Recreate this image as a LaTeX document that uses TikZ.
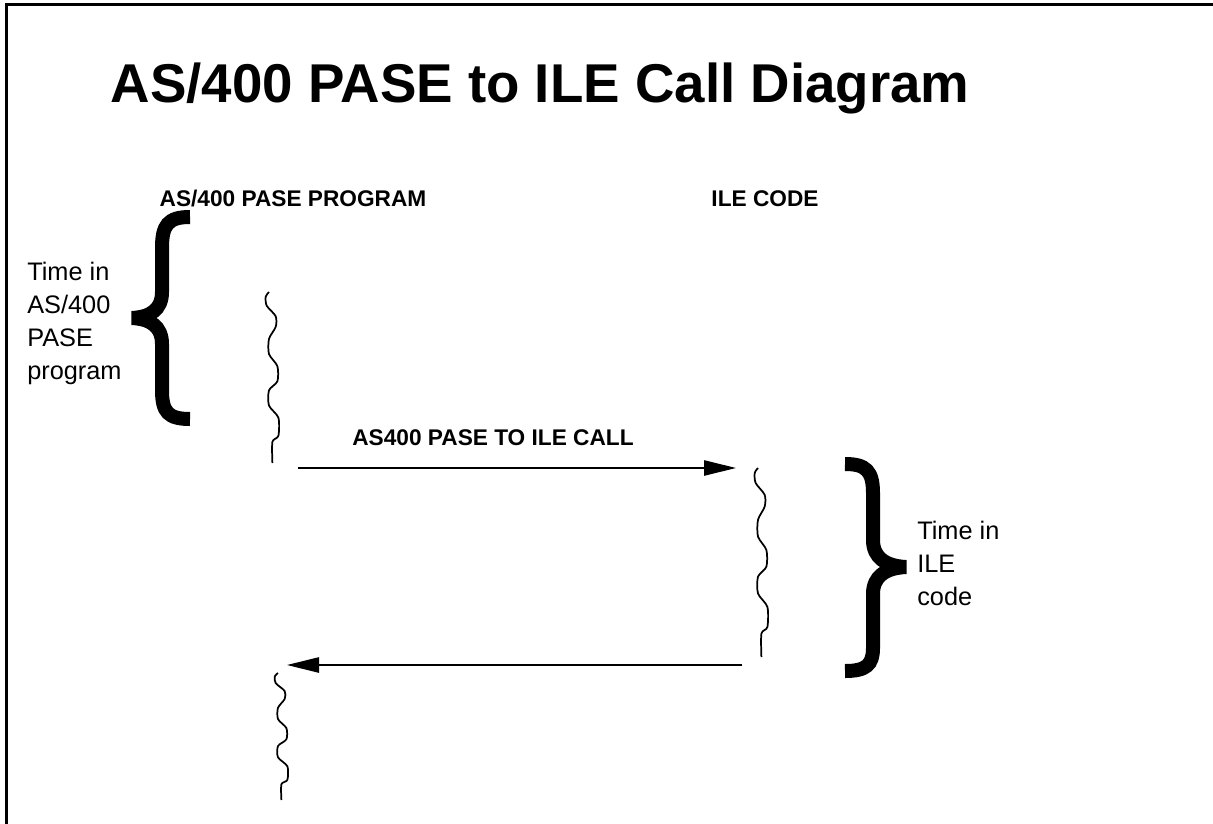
\documentclass[tikz,border=0pt]{standalone}
\usepackage{fontspec}
\setmainfont{Liberation Sans}
\usetikzlibrary{arrows.meta}
\def\onda{(0,0) (-3.3,0.027) (-2.3,0.08) (6.7,0.142) (6.7,0.204) (0,0.274) (0,0.363) (8.4,0.434) (8.4,0.522) (0,0.575) (0,0.664) (9.4,0.735) (9.4,0.841) (3.4,0.876) (3.4,1)}
\tikzset{
  heading/.style={font=\fontsize{41pt}{49pt}\selectfont\bfseries, inner sep=0pt, anchor=base},
  column/.style={font=\fontsize{17pt}{20pt}\selectfont\bfseries, inner sep=0pt, anchor=base},
  note/.style={font=\fontsize{19pt}{24.75pt}\selectfont, align=left, inner sep=0pt, anchor=north west},
  brace/.style={black, line width=10.5pt},
  timeline/.style={black, line width=1.3pt, line join=round},
  call/.style={black, line width=1.1pt, -{Triangle[length=24pt, width=11.5pt]}},
  frame/.style={black, line width=2.4pt},
}
% one timeline: x of its top, y of its top, height (all in px)
\newcommand{\squiggle}[3]{%
  \begin{scope}[shift={(#1,#2)}, yscale=#3]
    \draw[timeline] plot[smooth, tension=0.45] coordinates {\onda};
  \end{scope}
}

\begin{document}
\begin{tikzpicture}[x=0.75pt, y=-0.75pt]
  \useasboundingbox (0,0) rectangle (1213,824);

  % ---------------- slide frame ----------------
  \draw[frame] (6.5,824) -- (6.5,4.5) -- (1213,4.5);

  % ---------------- titles ----------------
  \node[heading] (title) at (540,103) {AS/400 PASE to ILE Call Diagram};
  \node[column] (pase) at (293,206) {AS/400 PASE PROGRAM};
  \node[column] (ile) at (765,206) {ILE CODE};

  % ---------------- time lines ----------------
  \squiggle{269}{292}{171}
  \squiggle{758}{468}{189}
  \squiggle{278}{673}{127}

  % ---------------- calls ----------------
  \coordinate (callfrom) at (298,468);
  \coordinate (callto) at (736,468);
  \coordinate (backfrom) at (742,665);
  \coordinate (backto) at (287,665);
  \draw[call] (callfrom) -- (callto);
  \draw[call] (backfrom) -- (backto);
  \node[column] (calllabel) at (493,445) {AS400 PASE TO ILE CALL};

  % ---------------- braces ----------------
  \draw[brace] (190,217) .. controls (168,217) and (162,225) .. (162,248) -- (162,292)
    .. controls (162,310) and (150,317) .. (132,318) .. controls (150,319) and (162,326) .. (162,344)
    -- (162,390) .. controls (162,412) and (168,419) .. (190,419);
  \node[note] (pasetime) at (27,262) {Time in\\AS/400\\PASE\\program};

  \draw[brace] (845,464) .. controls (866,464) and (873,471) .. (873,493) -- (873,540)
    .. controls (873,558) and (886,566) .. (906,567) .. controls (886,568) and (873,576) .. (873,594)
    -- (873,648) .. controls (873,665) and (866,671) .. (845,671);
  \node[note] (iletime) at (917,521) {Time in\\ILE\\code};
\end{tikzpicture}
\end{document}
